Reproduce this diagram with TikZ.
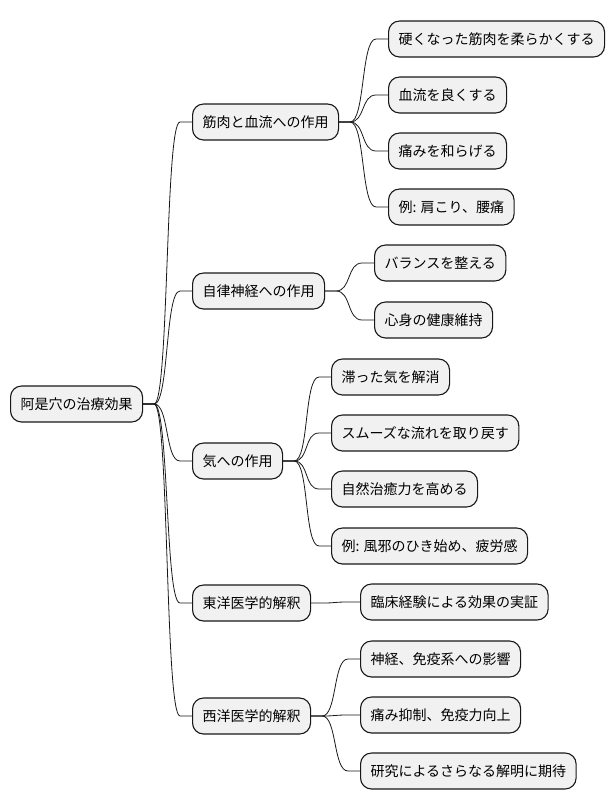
\documentclass[tikz,border=0pt]{standalone}
\usepackage{fontspec}
\setmainfont{Noto Sans CJK JP}
\usetikzlibrary{calc}

\definecolor{boxfill}{HTML}{F1F1F1}
\definecolor{boxline}{HTML}{181818}

\begin{document}
\begin{tikzpicture}[
  x=1pt, y=-1pt,
  font=\fontsize{14}{16}\selectfont,
  topic/.style={draw=boxline, fill=boxfill, line width=1.1pt, rounded corners=11pt,
    anchor=west, minimum height=36pt, inner xsep=10pt, inner ysep=0pt},
  edge/.style={draw=boxline, line width=0.8pt},
]
\useasboundingbox (0,0) rectangle (614,809);

% ---- root
\node[topic] (root) at (10,404) {阿是穴の治療効果};

% ---- first level
\node[topic] (mus)  at (192,122) {筋肉と血流への作用};
\node[topic] (ans)  at (192,291) {自律神経への作用};
\node[topic] (ki)   at (192,461) {気への作用};
\node[topic] (east) at (192,603) {東洋医学的解釈};
\node[topic] (west) at (192,716) {西洋医学的解釈};

% ---- muscles and blood flow
\node[topic] (soft)  at (388,39)  {硬くなった筋肉を柔らかくする};
\node[topic] (flow)  at (388,95)  {血流を良くする};
\node[topic] (pain)  at (388,151) {痛みを和らげる};
\node[topic] (exmus) at (388,207) {例: 肩こり、腰痛};

% ---- autonomic nerves
\node[topic] (bal)  at (374,263) {バランスを整える};
\node[topic] (keep) at (374,320) {心身の健康維持};

% ---- ki
\node[topic] (stag)   at (331,377) {滞った気を解消};
\node[topic] (smooth) at (331,433) {スムーズな流れを取り戻す};
\node[topic] (heal)   at (331,489) {自然治癒力を高める};
\node[topic] (exki)   at (331,546) {例: 風邪のひき始め、疲労感};

% ---- eastern / western views
\node[topic] (clin)  at (360,602) {臨床経験による効果の実証};
\node[topic] (immu)  at (360,659) {神経、免疫系への影響};
\node[topic] (supp)  at (360,715) {痛み抑制、免疫力向上};
\node[topic] (resch) at (360,771) {研究によるさらなる解明に期待};

% ---- branches
\foreach \p/\c in {root/mus, root/ans, root/ki, root/east, root/west,
                   mus/soft, mus/flow, mus/pain, mus/exmus,
                   ans/bal, ans/keep,
                   ki/stag, ki/smooth, ki/heal, ki/exki,
                   east/clin,
                   west/immu, west/supp, west/resch}
  \draw[edge] (\p.east) -- ++(11,0) .. controls +(15,0) and +(-15,0) .. ($(\c.west)+(-12,0)$) -- (\c.west);
\end{tikzpicture}
\end{document}
